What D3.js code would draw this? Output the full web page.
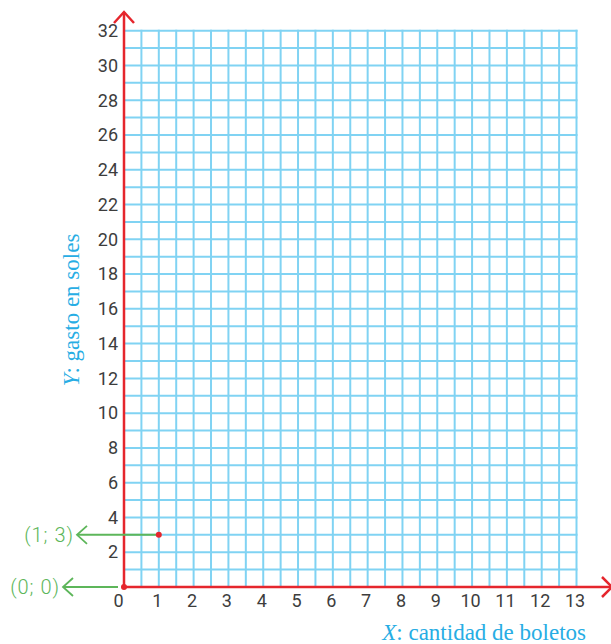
<!doctype html>
<html lang="es">
<head>
  <meta charset="utf-8">
  <script src="https://d3js.org/d3.v7.min.js"></script>
  <title>Gasto en soles vs cantidad de boletos</title>
  <style>
    html, body { margin: 0; padding: 0; background: #fff; }
    svg { display: block; }
    .tick-label { font-family: Roboto, sans-serif; font-size: 18px; fill: #3d3d3d; }
    .point-label { font-family: Roboto, sans-serif; font-weight: 300; font-size: 20px; letter-spacing: 1px; fill: #5db65a; }
    .axis-title { font-family: "Liberation Serif", serif; font-size: 23px; fill: #27ade4; }
  </style>
</head>
<body>
<script>
  // tick labels on each axis
  var xTicks = [0, 1, 2, 3, 4, 5, 6, 7, 8, 9, 10, 11, 12, 13];
  var yTicks = [2, 4, 6, 8, 10, 12, 14, 16, 18, 20, 22, 24, 26, 28, 30, 32];

  // grid steps (x every half unit, y every unit)
  var xGrid = d3.range(0.5, 13.01, 0.5);
  var yGrid = d3.range(1, 33, 1);

  // marked points
  var pointX = [0, 1];
  var pointY = [0, 3];
  var pointLabels = ["(0; 0)", "(1; 3)"];

  var W = 611, H = 644;
  var red = "#e5262d", blue = "#80d3f3", green = "#5db65a";

  var x = d3.scaleLinear().domain([0, 13]).range([124, 576.5]);
  var y = d3.scaleLinear().domain([0, 32]).range([587, 30.7]);

  var svg = d3.select("body").append("svg")
    .attr("width", W)
    .attr("height", H);

  // grid
  var grid = svg.append("g");
  grid.selectAll("line.v").data(xGrid).enter().append("line")
    .attr("x1", function(d) { return x(d); })
    .attr("x2", function(d) { return x(d); })
    .attr("y1", y(0))
    .attr("y2", y(32) - 1)
    .attr("stroke", blue)
    .attr("stroke-width", 2);
  grid.selectAll("line.h").data(yGrid).enter().append("line")
    .attr("x1", x(0))
    .attr("x2", x(13) + 1)
    .attr("y1", function(d) { return y(d); })
    .attr("y2", function(d) { return y(d); })
    .attr("stroke", blue)
    .attr("stroke-width", 2);

  // tick labels through d3 axes (no lines)
  var xAxis = svg.append("g")
    .attr("transform", "translate(-2," + y(0) + ")")
    .call(d3.axisBottom(x).tickValues(xTicks).tickSize(0).tickPadding(7).tickFormat(d3.format("d")));
  var yAxis = svg.append("g")
    .attr("transform", "translate(" + (x(0) - 6) + ",0)")
    .call(d3.axisLeft(y).tickValues(yTicks).tickSize(0).tickPadding(0).tickFormat(d3.format("d")));
  [xAxis, yAxis].forEach(function(a) {
    a.select(".domain").remove();
    a.selectAll("text").attr("class", "tick-label").attr("fill", null).style("font", null);
    a.attr("font-family", null).attr("font-size", null);
  });
  // the origin label sits a little further left
  xAxis.selectAll(".tick text").filter(function(d) { return d === 0; }).attr("dx", -4);

  // red axes with open arrowheads
  var axes = svg.append("g")
    .attr("stroke", red)
    .attr("stroke-width", 2.5)
    .attr("fill", "none");
  axes.append("line")
    .attr("x1", x(0)).attr("y1", y(0))
    .attr("x2", W + 2).attr("y2", y(0));
  axes.append("line")
    .attr("x1", x(0)).attr("y1", y(0))
    .attr("x2", x(0)).attr("y2", 12);
  axes.append("path")
    .attr("d", "M" + (x(0) - 10) + ",23L" + x(0) + ",12L" + (x(0) + 10) + ",23");
  axes.append("path")
    .attr("d", "M" + (W - 9) + "," + (y(0) - 10) + "L" + (W + 1) + "," + y(0) + "L" + (W - 9) + "," + (y(0) + 10));

  // green callouts
  var tipX = [63, 77];
  var startX = [118, null];
  var calls = svg.append("g");
  pointX.forEach(function(px, i) {
    var py = y(pointY[i]);
    var x0 = startX[i] === null ? x(px) : startX[i];
    calls.append("line")
      .attr("x1", x0).attr("y1", py)
      .attr("x2", tipX[i] + 1).attr("y2", py)
      .attr("stroke", green).attr("stroke-width", 2);
    calls.append("path")
      .attr("d", "M" + (tipX[i] + 10) + "," + (py - 9) + "L" + tipX[i] + "," + py + "L" + (tipX[i] + 10) + "," + (py + 9))
      .attr("stroke", green).attr("stroke-width", 1.8).attr("fill", "none");
    calls.append("text")
      .attr("class", "point-label")
      .attr("x", tipX[i] - 3)
      .attr("y", py)
      .attr("dy", "0.35em")
      .attr("text-anchor", "end")
      .text(pointLabels[i]);
  });

  // red points
  svg.append("g").selectAll("circle")
    .data(pointX).enter().append("circle")
    .attr("cx", function(d) { return x(d); })
    .attr("cy", function(d, i) { return y(pointY[i]); })
    .attr("r", 3)
    .attr("fill", red);

  // axis titles
  var xt = svg.append("text")
    .attr("class", "axis-title")
    .attr("x", 586)
    .attr("y", 640)
    .attr("text-anchor", "end");
  xt.append("tspan").attr("font-style", "italic").text("X");
  xt.append("tspan").text(": cantidad de boletos");

  var yt = svg.append("text")
    .attr("class", "axis-title")
    .attr("transform", "translate(79,310) rotate(-90)")
    .attr("text-anchor", "middle");
  yt.append("tspan").attr("font-style", "italic").text("Y");
  yt.append("tspan").text(": gasto en soles");
</script>
</body>
</html>
